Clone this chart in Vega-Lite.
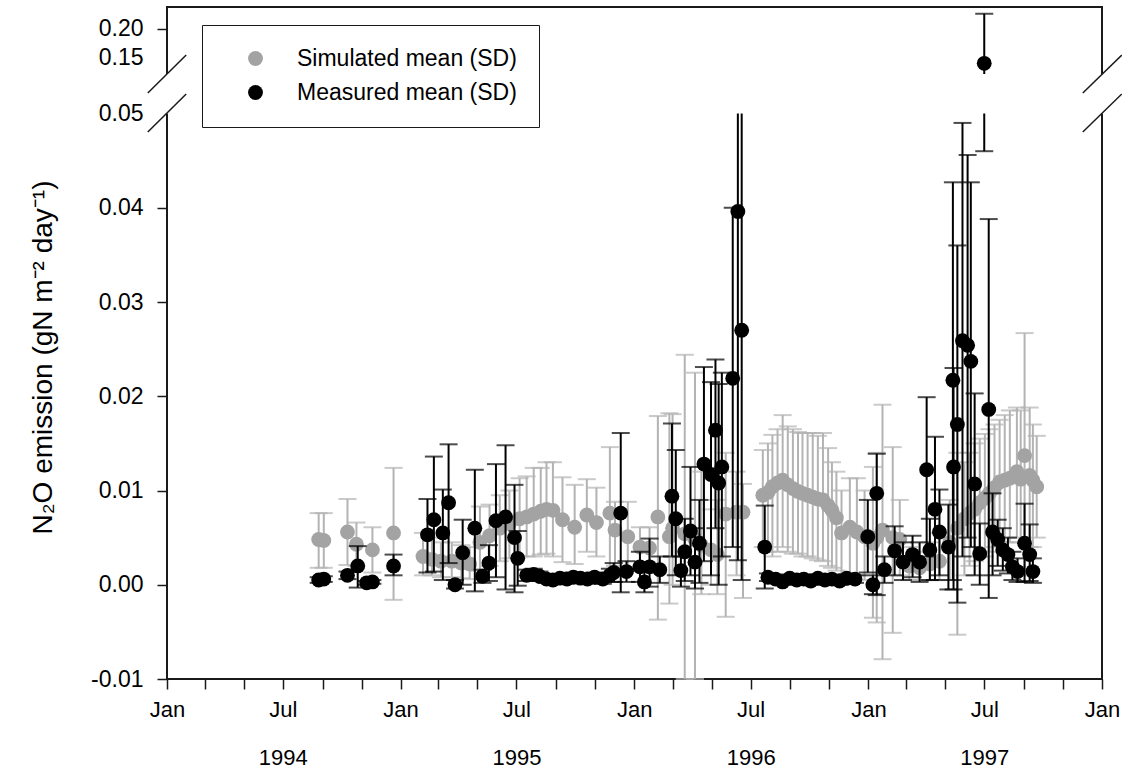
{
  "$schema": "https://vega.github.io/schema/vega-lite/v6.json",
  "width": 935,
  "height": 672,
  "autosize": "none",
  "padding": {"left": 167, "top": 7, "right": 20, "bottom": 93},
  "background": "white",
  "config": {
    "font": "Liberation Sans",
    "view": {"stroke": "#1a1a1a", "strokeWidth": 2},
    "axis": {"grid": false, "domain": false, "tickColor": "#1a1a1a", "tickWidth": 1.5, "tickSize": 10, "labelFontSize": 23, "labelColor": "#000000", "titleColor": "#000000", "labelFont": "Liberation Sans", "titleFont": "Liberation Sans"}
  },
  "datasets": {
    "sim": [
      {"t": "1994-08-26", "v": 0.0048, "lo": 0.0018, "hi": 0.0076},
      {"t": "1994-09-03", "v": 0.0047, "lo": 0.0018, "hi": 0.0076},
      {"t": "1994-10-10", "v": 0.0056, "lo": 0.0021, "hi": 0.0091},
      {"t": "1994-10-24", "v": 0.0043, "lo": 0.0020, "hi": 0.0066},
      {"t": "1994-11-18", "v": 0.0037, "lo": 0.0013, "hi": 0.0061},
      {"t": "1994-12-21", "v": 0.0055, "lo": -0.0016, "hi": 0.0124},
      {"t": "1995-02-05", "v": 0.0030, "lo": 0.0010, "hi": 0.0055},
      {"t": "1995-02-19", "v": 0.0027, "lo": 0.0010, "hi": 0.0050},
      {"t": "1995-03-05", "v": 0.0025, "lo": 0.0008, "hi": 0.0045},
      {"t": "1995-03-22", "v": 0.0025, "lo": 0.0008, "hi": 0.0045},
      {"t": "1995-04-06", "v": 0.0023, "lo": 0.0007, "hi": 0.0042},
      {"t": "1995-04-19", "v": 0.0022, "lo": 0.0006, "hi": 0.0040},
      {"t": "1995-05-05", "v": 0.0045, "lo": 0.0015, "hi": 0.0083},
      {"t": "1995-05-20", "v": 0.0052, "lo": 0.0020, "hi": 0.0085},
      {"t": "1995-06-05", "v": 0.0060, "lo": 0.0025, "hi": 0.0095},
      {"t": "1995-06-20", "v": 0.0065, "lo": 0.0028, "hi": 0.0100},
      {"t": "1995-07-06", "v": 0.0070, "lo": 0.0030, "hi": 0.0113},
      {"t": "1995-07-17", "v": 0.0072, "lo": 0.0030, "hi": 0.0115},
      {"t": "1995-07-28", "v": 0.0075, "lo": 0.0030, "hi": 0.0124},
      {"t": "1995-08-08", "v": 0.0078, "lo": 0.0032, "hi": 0.0124},
      {"t": "1995-08-17", "v": 0.0080, "lo": 0.0033, "hi": 0.0130},
      {"t": "1995-08-27", "v": 0.0079, "lo": 0.0030, "hi": 0.0130},
      {"t": "1995-09-11", "v": 0.0069, "lo": 0.0024, "hi": 0.0114},
      {"t": "1995-09-30", "v": 0.0061, "lo": 0.0022, "hi": 0.0106},
      {"t": "1995-10-19", "v": 0.0074, "lo": 0.0035, "hi": 0.0112},
      {"t": "1995-11-03", "v": 0.0066, "lo": 0.0030, "hi": 0.0103},
      {"t": "1995-11-24", "v": 0.0076, "lo": 0.0010, "hi": 0.0146},
      {"t": "1995-12-02", "v": 0.0058, "lo": 0.0020, "hi": 0.0088},
      {"t": "1995-12-22", "v": 0.0051, "lo": 0.0015, "hi": 0.0088},
      {"t": "1996-01-10", "v": 0.0040, "lo": 0.0015, "hi": 0.0061},
      {"t": "1996-01-25", "v": 0.0039, "lo": 0.0015, "hi": 0.0061},
      {"t": "1996-02-07", "v": 0.0072, "lo": -0.0037, "hi": 0.0179},
      {"t": "1996-02-25", "v": 0.0051, "lo": -0.0020, "hi": 0.0182},
      {"t": "1996-03-01", "v": 0.0060, "lo": 0.0000, "hi": 0.0181},
      {"t": "1996-03-20", "v": 0.0054, "lo": -0.0100, "hi": 0.0244},
      {"t": "1996-04-05", "v": 0.0048, "lo": -0.0100, "hi": 0.0225},
      {"t": "1996-04-15", "v": 0.0042, "lo": -0.0010, "hi": 0.0120},
      {"t": "1996-04-30", "v": 0.0037, "lo": 0.0000, "hi": 0.0080},
      {"t": "1996-05-10", "v": 0.0032, "lo": -0.0010, "hi": 0.0090},
      {"t": "1996-05-23", "v": 0.0075, "lo": -0.0034, "hi": 0.0140},
      {"t": "1996-06-09", "v": 0.0077, "lo": 0.0010, "hi": 0.0120},
      {"t": "1996-06-19", "v": 0.0077, "lo": -0.0014, "hi": 0.0107},
      {"t": "1996-07-20", "v": 0.0095, "lo": 0.0040, "hi": 0.0143},
      {"t": "1996-07-28", "v": 0.0098, "lo": 0.0035, "hi": 0.0150},
      {"t": "1996-08-04", "v": 0.0104, "lo": 0.0030, "hi": 0.0159},
      {"t": "1996-08-12", "v": 0.0108, "lo": 0.0035, "hi": 0.0165},
      {"t": "1996-08-20", "v": 0.0111, "lo": 0.0040, "hi": 0.0180},
      {"t": "1996-08-28", "v": 0.0106, "lo": 0.0035, "hi": 0.0168},
      {"t": "1996-09-05", "v": 0.0102, "lo": 0.0033, "hi": 0.0165},
      {"t": "1996-09-13", "v": 0.0099, "lo": 0.0033, "hi": 0.0162},
      {"t": "1996-09-20", "v": 0.0097, "lo": 0.0030, "hi": 0.0161},
      {"t": "1996-09-28", "v": 0.0095, "lo": 0.0030, "hi": 0.0161},
      {"t": "1996-10-06", "v": 0.0093, "lo": 0.0028, "hi": 0.0161},
      {"t": "1996-10-14", "v": 0.0091, "lo": 0.0026, "hi": 0.0158},
      {"t": "1996-10-22", "v": 0.0090, "lo": 0.0025, "hi": 0.0161},
      {"t": "1996-10-30", "v": 0.0084, "lo": 0.0020, "hi": 0.0145},
      {"t": "1996-11-05", "v": 0.0079, "lo": 0.0018, "hi": 0.0130},
      {"t": "1996-11-12", "v": 0.0071, "lo": 0.0015, "hi": 0.0120},
      {"t": "1996-11-20", "v": 0.0055, "lo": 0.0010, "hi": 0.0100},
      {"t": "1996-12-03", "v": 0.0061, "lo": 0.0012, "hi": 0.0113},
      {"t": "1996-12-14", "v": 0.0056, "lo": 0.0010, "hi": 0.0113},
      {"t": "1996-12-26", "v": 0.0051, "lo": 0.0005, "hi": 0.0100},
      {"t": "1997-01-08", "v": 0.0044, "lo": -0.0035, "hi": 0.0125},
      {"t": "1997-01-14", "v": 0.0050, "lo": -0.0040, "hi": 0.0140},
      {"t": "1997-01-23", "v": 0.0058, "lo": -0.0079, "hi": 0.0191},
      {"t": "1997-02-08", "v": 0.0050, "lo": -0.0051, "hi": 0.0146},
      {"t": "1997-02-19", "v": 0.0048, "lo": 0.0010, "hi": 0.0090},
      {"t": "1997-03-06", "v": 0.0020, "lo": 0.0005, "hi": 0.0040},
      {"t": "1997-03-22", "v": 0.0018, "lo": 0.0005, "hi": 0.0035},
      {"t": "1997-04-07", "v": 0.0022, "lo": 0.0005, "hi": 0.0045},
      {"t": "1997-04-22", "v": 0.0025, "lo": 0.0005, "hi": 0.0055},
      {"t": "1997-05-08", "v": 0.0045, "lo": 0.0005, "hi": 0.0090},
      {"t": "1997-05-20", "v": 0.0060, "lo": -0.0053, "hi": 0.0140},
      {"t": "1997-05-31", "v": 0.0070, "lo": 0.0010, "hi": 0.0130},
      {"t": "1997-06-08", "v": 0.0076, "lo": 0.0020, "hi": 0.0140},
      {"t": "1997-06-16", "v": 0.0080, "lo": 0.0025, "hi": 0.0150},
      {"t": "1997-06-24", "v": 0.0087, "lo": 0.0030, "hi": 0.0155},
      {"t": "1997-07-02", "v": 0.0092, "lo": 0.0030, "hi": 0.0160},
      {"t": "1997-07-09", "v": 0.0097, "lo": 0.0035, "hi": 0.0165},
      {"t": "1997-07-17", "v": 0.0103, "lo": 0.0040, "hi": 0.0170},
      {"t": "1997-07-25", "v": 0.0109, "lo": 0.0045, "hi": 0.0175},
      {"t": "1997-08-02", "v": 0.0111, "lo": 0.0045, "hi": 0.0180},
      {"t": "1997-08-10", "v": 0.0113, "lo": 0.0045, "hi": 0.0185},
      {"t": "1997-08-21", "v": 0.0120, "lo": 0.0050, "hi": 0.0188},
      {"t": "1997-08-27", "v": 0.0112, "lo": 0.0045, "hi": 0.0185},
      {"t": "1997-09-02", "v": 0.0137, "lo": 0.0010, "hi": 0.0267},
      {"t": "1997-09-10", "v": 0.0116, "lo": 0.0040, "hi": 0.0188},
      {"t": "1997-09-15", "v": 0.0111, "lo": 0.0040, "hi": 0.0170},
      {"t": "1997-09-21", "v": 0.0104, "lo": 0.0050, "hi": 0.0158}
    ],
    "meas": [
      {"t": "1994-08-26", "v": 0.0005, "lo": 0.0002, "hi": 0.0008},
      {"t": "1994-09-03", "v": 0.0006, "lo": 0.0003, "hi": 0.0009},
      {"t": "1994-10-10", "v": 0.0010, "lo": 0.0006, "hi": 0.0014},
      {"t": "1994-10-26", "v": 0.0020, "lo": -0.0003, "hi": 0.0041},
      {"t": "1994-11-09", "v": 0.0002, "lo": 0.0000, "hi": 0.0004},
      {"t": "1994-11-18", "v": 0.0003, "lo": 0.0001, "hi": 0.0005},
      {"t": "1994-12-21", "v": 0.0020, "lo": 0.0010, "hi": 0.0032},
      {"t": "1995-02-12", "v": 0.0053, "lo": 0.0013, "hi": 0.0091},
      {"t": "1995-02-22", "v": 0.0069, "lo": 0.0014, "hi": 0.0136},
      {"t": "1995-03-08", "v": 0.0055, "lo": 0.0005, "hi": 0.0101},
      {"t": "1995-03-17", "v": 0.0087, "lo": 0.0023, "hi": 0.0149},
      {"t": "1995-03-27", "v": 0.0000, "lo": -0.0004, "hi": 0.0005},
      {"t": "1995-04-08", "v": 0.0034, "lo": 0.0000, "hi": 0.0069},
      {"t": "1995-04-27", "v": 0.0060, "lo": -0.0007, "hi": 0.0122},
      {"t": "1995-05-09", "v": 0.0009, "lo": 0.0002, "hi": 0.0016},
      {"t": "1995-05-19", "v": 0.0023, "lo": 0.0004, "hi": 0.0042},
      {"t": "1995-05-30", "v": 0.0068, "lo": 0.0008, "hi": 0.0128},
      {"t": "1995-06-14", "v": 0.0072, "lo": -0.0005, "hi": 0.0148},
      {"t": "1995-06-28", "v": 0.0050, "lo": -0.0008, "hi": 0.0106},
      {"t": "1995-07-03", "v": 0.0028, "lo": -0.0001, "hi": 0.0057},
      {"t": "1995-07-17", "v": 0.0010, "lo": 0.0004, "hi": 0.0016},
      {"t": "1995-07-28", "v": 0.0011, "lo": 0.0005, "hi": 0.0017},
      {"t": "1995-08-06", "v": 0.0009, "lo": 0.0004, "hi": 0.0014},
      {"t": "1995-08-17", "v": 0.0006, "lo": 0.0002, "hi": 0.0010},
      {"t": "1995-08-27", "v": 0.0005, "lo": 0.0001, "hi": 0.0009},
      {"t": "1995-09-07", "v": 0.0007, "lo": 0.0003, "hi": 0.0011},
      {"t": "1995-09-18", "v": 0.0006, "lo": 0.0002, "hi": 0.0010},
      {"t": "1995-09-28", "v": 0.0008, "lo": 0.0003, "hi": 0.0013},
      {"t": "1995-10-09", "v": 0.0007, "lo": 0.0003, "hi": 0.0011},
      {"t": "1995-10-20", "v": 0.0006, "lo": 0.0002, "hi": 0.0010},
      {"t": "1995-10-31", "v": 0.0008, "lo": 0.0003, "hi": 0.0013},
      {"t": "1995-11-13", "v": 0.0006, "lo": 0.0001, "hi": 0.0011},
      {"t": "1995-11-24", "v": 0.0010, "lo": 0.0003, "hi": 0.0017},
      {"t": "1995-11-30", "v": 0.0013, "lo": 0.0003, "hi": 0.0023},
      {"t": "1995-12-11", "v": 0.0076, "lo": -0.0008, "hi": 0.0161},
      {"t": "1995-12-20", "v": 0.0014, "lo": 0.0003, "hi": 0.0025},
      {"t": "1996-01-10", "v": 0.0019, "lo": 0.0003, "hi": 0.0035},
      {"t": "1996-01-17", "v": 0.0003, "lo": -0.0008, "hi": 0.0014},
      {"t": "1996-01-25", "v": 0.0019, "lo": -0.0002, "hi": 0.0049},
      {"t": "1996-02-10", "v": 0.0016, "lo": 0.0002, "hi": 0.0030},
      {"t": "1996-02-29", "v": 0.0094, "lo": 0.0030, "hi": 0.0171},
      {"t": "1996-03-06", "v": 0.0070, "lo": 0.0010, "hi": 0.0143},
      {"t": "1996-03-14", "v": 0.0015, "lo": -0.0002, "hi": 0.0030},
      {"t": "1996-03-20", "v": 0.0035, "lo": 0.0004, "hi": 0.0070},
      {"t": "1996-03-29", "v": 0.0057, "lo": 0.0010, "hi": 0.0125},
      {"t": "1996-04-05", "v": 0.0024, "lo": -0.0004, "hi": 0.0060},
      {"t": "1996-04-12", "v": 0.0044, "lo": 0.0002, "hi": 0.0090},
      {"t": "1996-04-19", "v": 0.0128, "lo": 0.0025, "hi": 0.0231},
      {"t": "1996-04-30", "v": 0.0117, "lo": 0.0010, "hi": 0.0215},
      {"t": "1996-05-07", "v": 0.0164, "lo": 0.0060, "hi": 0.0239},
      {"t": "1996-05-12", "v": 0.0108, "lo": 0.0000, "hi": 0.0213},
      {"t": "1996-05-17", "v": 0.0125, "lo": 0.0030, "hi": 0.0225},
      {"t": "1996-06-03", "v": 0.0219, "lo": 0.0040, "hi": 0.0400},
      {"t": "1996-06-11", "v": 0.0396, "lo": 0.0026, "hi": 0.0770},
      {"t": "1996-06-17", "v": 0.0270, "lo": 0.0005, "hi": 0.0535},
      {"t": "1996-07-23", "v": 0.0040, "lo": -0.0004, "hi": 0.0084},
      {"t": "1996-07-28", "v": 0.0008, "lo": 0.0004, "hi": 0.0012},
      {"t": "1996-08-09", "v": 0.0006, "lo": 0.0002, "hi": 0.0010},
      {"t": "1996-08-20", "v": 0.0003, "lo": 0.0000, "hi": 0.0006},
      {"t": "1996-08-31", "v": 0.0007, "lo": 0.0003, "hi": 0.0011},
      {"t": "1996-09-11", "v": 0.0005, "lo": 0.0001, "hi": 0.0009},
      {"t": "1996-09-22", "v": 0.0006, "lo": 0.0002, "hi": 0.0010},
      {"t": "1996-10-03", "v": 0.0004, "lo": 0.0000, "hi": 0.0008},
      {"t": "1996-10-14", "v": 0.0007, "lo": 0.0003, "hi": 0.0011},
      {"t": "1996-10-25", "v": 0.0005, "lo": 0.0001, "hi": 0.0009},
      {"t": "1996-11-05", "v": 0.0006, "lo": 0.0002, "hi": 0.0010},
      {"t": "1996-11-17", "v": 0.0004, "lo": 0.0000, "hi": 0.0008},
      {"t": "1996-11-28", "v": 0.0007, "lo": 0.0003, "hi": 0.0011},
      {"t": "1996-12-11", "v": 0.0006, "lo": 0.0002, "hi": 0.0010},
      {"t": "1996-12-31", "v": 0.0051, "lo": 0.0013, "hi": 0.0090},
      {"t": "1997-01-08", "v": 0.0000, "lo": -0.0010, "hi": 0.0010},
      {"t": "1997-01-14", "v": 0.0097, "lo": -0.0011, "hi": 0.0139},
      {"t": "1997-01-26", "v": 0.0016, "lo": 0.0002, "hi": 0.0030},
      {"t": "1997-02-11", "v": 0.0036, "lo": 0.0010, "hi": 0.0062},
      {"t": "1997-02-24", "v": 0.0024, "lo": 0.0005, "hi": 0.0045},
      {"t": "1997-03-11", "v": 0.0032, "lo": 0.0008, "hi": 0.0052},
      {"t": "1997-03-22", "v": 0.0024, "lo": 0.0003, "hi": 0.0045},
      {"t": "1997-04-02", "v": 0.0122, "lo": 0.0030, "hi": 0.0199},
      {"t": "1997-04-07", "v": 0.0037, "lo": 0.0005, "hi": 0.0070},
      {"t": "1997-04-15", "v": 0.0080, "lo": 0.0005, "hi": 0.0157},
      {"t": "1997-04-22", "v": 0.0056, "lo": 0.0010, "hi": 0.0101},
      {"t": "1997-05-06", "v": 0.0040, "lo": -0.0005, "hi": 0.0085},
      {"t": "1997-05-13", "v": 0.0217, "lo": 0.0005, "hi": 0.0427},
      {"t": "1997-05-14", "v": 0.0125, "lo": -0.0005, "hi": 0.0230},
      {"t": "1997-05-20", "v": 0.0170, "lo": -0.0019, "hi": 0.0360},
      {"t": "1997-05-28", "v": 0.0259, "lo": 0.0030, "hi": 0.0490},
      {"t": "1997-06-05", "v": 0.0254, "lo": 0.0050, "hi": 0.0456},
      {"t": "1997-06-10", "v": 0.0237, "lo": 0.0040, "hi": 0.0427},
      {"t": "1997-06-16", "v": 0.0107, "lo": 0.0010, "hi": 0.0203},
      {"t": "1997-06-24", "v": 0.0033, "lo": 0.0000, "hi": 0.0065},
      {"t": "1997-07-01", "v": 0.1390, "lo": 0.0460, "hi": 0.2270},
      {"t": "1997-07-08", "v": 0.0186, "lo": -0.0014, "hi": 0.0388},
      {"t": "1997-07-14", "v": 0.0056, "lo": 0.0010, "hi": 0.0097},
      {"t": "1997-07-22", "v": 0.0048, "lo": 0.0020, "hi": 0.0069},
      {"t": "1997-07-30", "v": 0.0037, "lo": 0.0015, "hi": 0.0060},
      {"t": "1997-08-07", "v": 0.0032, "lo": 0.0012, "hi": 0.0050},
      {"t": "1997-08-14", "v": 0.0019, "lo": 0.0005, "hi": 0.0035},
      {"t": "1997-08-22", "v": 0.0014, "lo": 0.0003, "hi": 0.0028},
      {"t": "1997-09-02", "v": 0.0044, "lo": 0.0003, "hi": 0.0086},
      {"t": "1997-09-10", "v": 0.0032, "lo": 0.0004, "hi": 0.0064},
      {"t": "1997-09-15", "v": 0.0014, "lo": 0.0002, "hi": 0.0028}
    ],
    "gap": [{"a": "1993-12-21", "b": "1998-01-12", "lo": 0.05, "hi": 0.12}],
    "breaks": [
      {"a": "1993-12-02", "b": "1994-01-31", "lo": 0.0863, "hi": 0.1537},
      {"a": "1993-12-02", "b": "1994-01-31", "lo": 0.04804, "hi": 0.0846},
      {"a": "1997-12-02", "b": "1998-02-01", "lo": 0.0863, "hi": 0.1537},
      {"a": "1997-12-02", "b": "1998-02-01", "lo": 0.04804, "hi": 0.0846}
    ]
  },
  "layer": [
    {
      "data": {"name": "sim"},
      "mark": {"type": "rule", "color": "#b3b3b3", "strokeWidth": 2},
      "encoding": {
        "x": {
          "field": "t", "type": "temporal",
          "scale": {"domain": [{"year": 1994, "month": 1, "date": 1}, {"year": 1998, "month": 1, "date": 1}]},
          "axis": {
            "title": null,
            "tickCount": {"interval": "month", "step": 2},
            "labelExpr": "month(datum.value) == 0 ? 'Jan' : (month(datum.value) == 6 ? ['Jul', timeFormat(datum.value, '%Y')] : '')",
            "labelLineHeight": 48,
            "labelBaseline": "top",
            "labelPadding": 10,
            "labelFontSize": 22,
            "labelOverlap": false,
            "labelBound": false,
            "labelFlush": false
          }
        },
        "y": {
          "field": "lo", "type": "quantitative",
          "scale": {"type": "linear", "domain": [-0.01, 0.05, 0.12, 0.239], "range": [672, 106.5, 67, 0], "zero": false, "nice": false},
          "axis": {
            "title": "N₂O emission (gN m⁻² day⁻¹)",
            "values": [-0.01, 0, 0.01, 0.02, 0.03, 0.04, 0.05, 0.15, 0.2],
            "labelExpr": "datum.value < 0 ? '-0.01' : format(datum.value, '.2f')",
            "labelPadding": 14,
            "labelOverlap": false,
            "labelBound": false,
            "labelFlush": false,
            "tickOpacity": {"condition": {"test": "datum.value == 0.05 || datum.value == 0.15", "value": 0}, "value": 1},
            "titleFontSize": 28,
            "titleFontWeight": "normal",
            "titleX": -110,
            "titleY": 350,
            "titleAlign": "center"
          }
        },
        "y2": {"field": "hi"}
      }
    },
    {
      "data": {"name": "sim"},
      "mark": {"type": "tick", "orient": "horizontal", "color": "#b3b3b3", "size": 18, "thickness": 2},
      "encoding": {"x": {"field": "t", "type": "temporal"}, "y": {"field": "hi", "type": "quantitative"}}
    },
    {
      "data": {"name": "sim"},
      "mark": {"type": "tick", "orient": "horizontal", "color": "#b3b3b3", "size": 18, "thickness": 2},
      "encoding": {"x": {"field": "t", "type": "temporal"}, "y": {"field": "lo", "type": "quantitative"}}
    },
    {
      "data": {"name": "sim"},
      "mark": {"type": "circle", "size": 220, "opacity": 1},
      "encoding": {
        "x": {"field": "t", "type": "temporal"},
        "y": {"field": "v", "type": "quantitative"},
        "color": {
          "datum": "Simulated mean (SD)", "type": "nominal",
          "scale": {"domain": ["Simulated mean (SD)", "Measured mean (SD)"], "range": ["#a3a3a3", "#000000"]},
          "legend": {
            "orient": "none", "legendX": 35, "legendY": 18, "title": null,
            "strokeColor": "#1a1a1a", "fillColor": "white", "padding": 22,
            "symbolOffset": 20, "labelOffset": 30, "labelFontSize": 23, "labelFont": "Liberation Sans", "labelLimit": 0,
            "symbolSize": 220, "symbolType": "circle", "rowPadding": 10, "labelColor": "#000000", "symbolStrokeWidth": 0
          }
        }
      }
    },
    {
      "data": {"name": "meas"},
      "mark": {"type": "rule", "color": "#000000", "strokeWidth": 2},
      "encoding": {"x": {"field": "t", "type": "temporal"}, "y": {"field": "lo", "type": "quantitative"}, "y2": {"field": "hi"}}
    },
    {
      "data": {"name": "meas"},
      "mark": {"type": "tick", "orient": "horizontal", "color": "#000000", "size": 18, "thickness": 2},
      "encoding": {"x": {"field": "t", "type": "temporal"}, "y": {"field": "hi", "type": "quantitative"}}
    },
    {
      "data": {"name": "meas"},
      "mark": {"type": "tick", "orient": "horizontal", "color": "#000000", "size": 18, "thickness": 2},
      "encoding": {"x": {"field": "t", "type": "temporal"}, "y": {"field": "lo", "type": "quantitative"}}
    },
    {
      "data": {"name": "meas"},
      "mark": {"type": "circle", "size": 220, "opacity": 1},
      "encoding": {
        "x": {"field": "t", "type": "temporal"},
        "y": {"field": "v", "type": "quantitative"},
        "color": {"datum": "Measured mean (SD)", "type": "nominal"}
      }
    },
    {
      "data": {"name": "gap"},
      "mark": {"type": "rect", "color": "white", "clip": false},
      "encoding": {"x": {"field": "a", "type": "temporal"}, "x2": {"field": "b"}, "y": {"field": "lo", "type": "quantitative"}, "y2": {"field": "hi"}}
    },
    {
      "data": {"name": "breaks"},
      "mark": {"type": "rule", "color": "#1a1a1a", "strokeWidth": 1.5, "clip": false},
      "encoding": {"x": {"field": "a", "type": "temporal"}, "x2": {"field": "b"}, "y": {"field": "lo", "type": "quantitative"}, "y2": {"field": "hi"}}
    }
  ]
}
